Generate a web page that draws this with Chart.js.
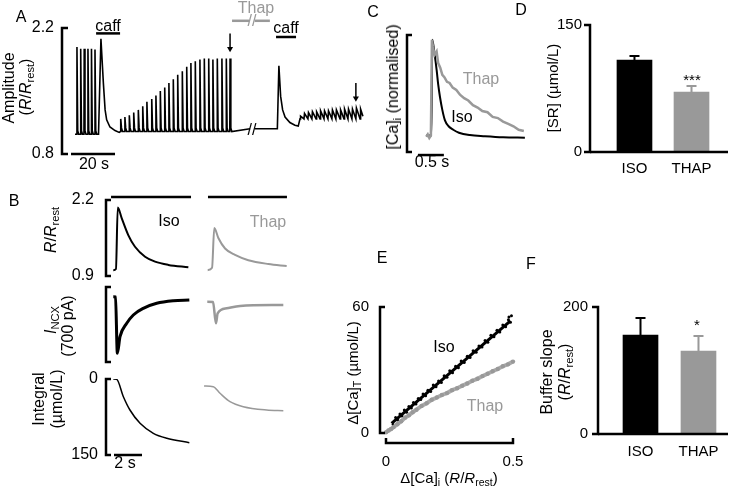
<!DOCTYPE html>
<html>
<head>
<meta charset="utf-8">
<script src="https://cdn.jsdelivr.net/npm/chart.js@4.4.1/dist/chart.umd.min.js"></script>
<style>
  body { margin: 0; background: #fff; }
  #fig { position: relative; width: 735px; height: 488px; overflow: hidden;
         font-family: "Liberation Sans", Arial, Helvetica, sans-serif; }
  #fig canvas { position: absolute; left: 0; top: 0; }
  .t { position: absolute; transform: translate(-50%, -50%); white-space: nowrap;
       font-size: 16px; line-height: 1; color: #000; }
  .r { transform: translate(-50%, -50%) rotate(-90deg); }
  .g { color: #999; }
  .s15 { font-size: 15px; }
  sub { font-size: 70%; vertical-align: -0.3em; line-height: 0; }
</style>
</head>
<body>
<div id="fig"></div>
<script>
'use strict';

// ---------- A: field-stimulated transients (time in s, R/Rrest) ----------
const aStartT = 5.9;
const aRest = 1.02;
const aBeatT = [6.8, 8.5, 10.1, 11.8, 13.4, 15.0];
const aBeatPk = [1.99, 1.97, 1.97, 1.97, 1.97, 1.96];
const aCaffT = [16.6, 17.7, 18.8, 19.6, 20.3, 21.8, 24.1, 26.0];
const aCaffV = [1.02, 2.08, 1.59, 1.29, 1.18, 1.10, 1.06, 1.04];
const aStairT = [26.7, 28.6, 30.6, 32.6, 34.7, 36.7, 38.6, 40.8, 42.7, 44.7, 46.7, 48.6, 50.6,
                 52.6, 54.7, 56.7, 58.6, 60.6, 62.7, 64.7, 66.7, 68.6, 70.6, 72.7, 74.7, 76.4];
const aStairPk = [1.19, 1.21, 1.23, 1.26, 1.29, 1.33, 1.38, 1.41, 1.45, 1.50, 1.54, 1.59, 1.63,
                  1.68, 1.72, 1.77, 1.81, 1.83, 1.85, 1.86, 1.86, 1.85, 1.86, 1.86, 1.86, 1.86];
const aStairBase = 1.05;
const aPlateau = 1.08;
const aGap = [85.5, 87.7];
const aThapCaffT = [97.9, 98.6, 99.4, 100.3, 101.4, 103.6, 105.9, 107.4];
const aThapCaffV = [1.08, 1.78, 1.44, 1.29, 1.21, 1.15, 1.12, 1.11];
const aSmallT = [108.2, 110.0, 111.8, 113.6, 115.5, 117.3, 119.1, 120.9, 122.7, 124.5,
                 126.4, 128.2, 130.0, 131.8, 133.6, 135.5];
const aSmallPk = [1.22, 1.25, 1.26, 1.27, 1.27, 1.28, 1.28, 1.28, 1.29, 1.29,
                  1.29, 1.30, 1.30, 1.30, 1.31, 1.30];
const aSmallBase = 1.19;
const aEndT = 136.8;
const aCaffBars = [[15.5, 26.4, 2.14], [97.3, 106.4, 2.10]];
const aThapBar = [[77.3, 85.0, 2.28], [87.6, 94.5, 2.28]];
const aArrows = [[76.4, 2.14, 1.94], [133.6, 1.59, 1.39]];
const aScaleBar = [4.1, 24.1];          // 20 s
const aTicks = [0.8, 2.2];

// ---------- B: caffeine-evoked transients, Iso vs Thap ----------
const bIsoRatioT = [0.52, 0.71, 0.84, 1.12, 1.59, 2.07, 2.79, 3.5, 4.45, 5.88];
const bIsoRatioV = [1.00, 1.02, 2.07, 1.89, 1.60, 1.40, 1.23, 1.145, 1.09, 1.05];
const bThapRatioT = [0.55, 0.86, 1.02, 1.31, 1.79, 2.5, 3.45, 4.88, 6.19];
const bThapRatioV = [1.00, 1.04, 1.72, 1.55, 1.37, 1.26, 1.17, 1.105, 1.07];
const bIsoNcxT = [0.52, 0.68, 0.81, 1.0, 1.48, 1.95, 2.66, 3.62, 4.81, 5.95];
const bIsoNcxV = [-90, -93, -619, -464, -339, -261, -199, -152, -128, -121];
const bThapNcxT = [0.52, 0.93, 1.14, 1.26, 1.91, 2.86, 5.95];
const bThapNcxV = [-137, -140, -339, -246, -199, -177, -168];
const bIsoIntT = [0.52, 0.76, 1.24, 1.71, 2.43, 3.38, 4.34, 5.95];
const bIsoIntV = [0, 0.6, 34.9, 61.2, 87.4, 107.2, 117, 125.7];
const bThapIntT = [0.29, 0.95, 1.43, 2.14, 3.09, 4.76, 5.95];
const bThapIntV = [13.8, 15.2, 28.2, 44.8, 54.7, 61.2, 62.6];
const bIsoBar = [0.36, 6.07];
const bThapBar = [0.57, 6.21];
const bScaleBar = [0.57, 2.57];         // 2 s
const bRatioTicks = [0.9, 2.2];
const bIntTicks = [0, 150];

// ---------- C: normalised [Ca]i ----------
const cIsoT = [0.37, 0.47, 0.487, 0.53, 0.571, 0.60, 0.635, 0.68, 0.731, 0.80, 0.89, 1.0, 1.21, 1.5, 1.85, 2.27];
const cIsoV = [0.14, 0.14, 0.96, 0.84, 0.70, 0.58, 0.47, 0.36, 0.27, 0.22, 0.19, 0.165, 0.145, 0.135, 0.126, 0.122];
const cThapT = [0.37, 0.40, 0.43, 0.46, 0.48, 0.50, 0.53, 0.57, 0.60, 0.64, 0.68, 0.72, 0.77, 0.82, 0.88,
                0.95, 1.02, 1.10, 1.18, 1.27, 1.36, 1.45, 1.55, 1.65, 1.75, 1.85, 1.95, 2.05, 2.15, 2.25];
const cThapV = [0.13, 0.15, 0.12, 0.14, 0.96, 0.90, 0.83, 0.86, 0.76, 0.72, 0.66, 0.64, 0.60, 0.59, 0.55,
                0.53, 0.49, 0.46, 0.44, 0.40, 0.38, 0.35, 0.34, 0.30, 0.29, 0.26, 0.24, 0.22, 0.19, 0.18];
const cScaleBar = [0.21, 0.71];         // 0.5 s

// ---------- D: SR content ----------
const dGroups = ['ISO', 'THAP'];
const dMean = [108.7, 70.9];
const dErr = [4.7, 7.1];
const dTicks = [0, 150];

// ---------- E: buffering curves ----------
const eIsoX = [0.028, 0.038, 0.046, 0.055, 0.063, 0.072, 0.081, 0.09, 0.1, 0.108, 0.118, 0.127, 0.137,
               0.146, 0.156, 0.165, 0.176, 0.186, 0.197, 0.207, 0.218, 0.229, 0.24, 0.251, 0.262, 0.274,
               0.285, 0.296, 0.308, 0.32, 0.331, 0.343, 0.355, 0.366, 0.378, 0.39, 0.401, 0.413, 0.425,
               0.437, 0.448, 0.46, 0.471, 0.482, 0.49, 0.484, 0.494];
const eIsoY = [4.1, 7.4, 6.2, 9.1, 8.1, 10.9, 9.9, 12.6, 11.9, 14.5, 13.8, 16.4, 15.9,
               18.6, 17.7, 20.3, 19.8, 22.9, 22.0, 24.8, 24.1, 27.3, 26.5, 29.6, 28.7, 31.8,
               31.1, 34.3, 33.6, 36.6, 35.9, 39.2, 38.4, 41.4, 40.9, 44.1, 43.2, 46.5, 45.8,
               48.9, 48.1, 51.4, 50.6, 53.9, 52.7, 55.2, 55.8];
const eIsoFitX = [0.022, 0.49];
const eIsoFitY = [4.6, 53.4];
const eThapX = [0.0, 0.01, 0.02, 0.03, 0.045, 0.06, 0.075, 0.09, 0.105, 0.12, 0.14, 0.16, 0.18, 0.2, 0.22,
                0.24, 0.26, 0.28, 0.3, 0.32, 0.34, 0.36, 0.38, 0.4, 0.42, 0.44, 0.46, 0.48, 0.5];
const eThapY = [0.3, 1.2, 1.9, 2.8, 4.2, 5.6, 7.3, 8.4, 9.9, 11.1, 12.9, 14.2, 15.8, 16.9, 18.1,
                19.0, 20.4, 21.3, 22.5, 23.6, 24.9, 25.8, 27.1, 28.2, 29.4, 30.5, 31.8, 32.7, 34.0];
const eXTicks = [0, 0.5];
const eYTicks = [0, 60];

// ---------- F: buffer slope ----------
const fGroups = ['ISO', 'THAP'];
const fMean = [155.9, 130.7];
const fErr = [26.8, 23.6];
const fTicks = [0, 200];

// =====================================================================
const W = 735, H = 488;
const BLACK = '#000000';
const GRAY = '#999999';
Chart.defaults.font.family = '"Liberation Sans", Arial, Helvetica, sans-serif';
Chart.defaults.color = '#000';
const fig = document.getElementById('fig');

function pts(xs, ys) {
  return xs.map((x, i) => ({ x: x, y: ys[i] }));
}

function trace(data, color, width, smooth) {
  return {
    data: data, borderColor: color, borderWidth: width, pointRadius: 0,
    cubicInterpolationMode: smooth ? 'monotone' : 'default', tension: 0, spanGaps: false
  };
}

function bar(x0, x1, y, color, width) {
  return {
    data: [{ x: x0, y: y }, { x: x1, y: y }], borderColor: color,
    borderWidth: width || 2.5, pointRadius: 0, clip: false
  };
}

function axis(min, max, ticks, size, pad, fontSize, reverse) {
  const s = {
    type: 'linear', min: min, max: max, reverse: !!reverse, display: !!ticks,
    grid: { display: false, drawTicks: false }, border: { display: false },
    ticks: { padding: pad || 0, font: { size: fontSize || 16 }, color: '#000' }
  };
  if (ticks) {
    s.afterBuildTicks = sc => { sc.ticks = ticks.map(v => ({ value: v })); };
    s.afterFit = sc => { if (sc.isHorizontal()) sc.height = size; else sc.width = size; };
    s.ticks.callback = v => String(v);
  }
  return s;
}

function catAxis(labels, min, max, size, pad) {
  return {
    type: 'linear', min: min, max: max, offset: false,
    grid: { display: false, drawTicks: false }, border: { display: false },
    afterBuildTicks: sc => { sc.ticks = labels.map((l, i) => ({ value: i })); },
    afterFit: sc => { sc.height = size; },
    ticks: { padding: pad, font: { size: 15 }, color: '#000', callback: (v, i) => labels[i] }
  };
}

// bracket-style axis lines drawn through the chart's own scales
function brackets(list) {
  return {
    id: 'brackets',
    afterDatasetsDraw(chart) {
      const { ctx, chartArea, scales } = chart;
      ctx.save();
      ctx.lineWidth = 2.5;
      ctx.strokeStyle = '#000';
      ctx.lineJoin = 'miter';
      list.forEach(b => {
        ctx.beginPath();
        if (b.axis === 'y') {
          const x = chartArea.left;
          const y1 = scales.y.getPixelForValue(b.from), y2 = scales.y.getPixelForValue(b.to);
          ctx.moveTo(x + b.tick, y1); ctx.lineTo(x, y1); ctx.lineTo(x, y2); ctx.lineTo(x + b.tick, y2);
        } else {
          const y = b.at !== undefined ? scales.y.getPixelForValue(b.at) : chartArea.bottom;
          const x1 = scales.x.getPixelForValue(b.from), x2 = scales.x.getPixelForValue(b.to);
          ctx.moveTo(x1, y + b.tick); ctx.lineTo(x1, y); ctx.lineTo(x2, y); ctx.lineTo(x2, y + b.tick);
        }
        ctx.stroke();
      });
      ctx.restore();
    }
  };
}

function errorBars(means, errs, colors) {
  return {
    id: 'errorBars',
    afterDatasetsDraw(chart) {
      const { ctx, scales } = chart;
      ctx.save();
      ctx.lineWidth = 2;
      means.forEach((m, i) => {
        const x = scales.x.getPixelForValue(i);
        const y0 = scales.y.getPixelForValue(m), y1 = scales.y.getPixelForValue(m + errs[i]);
        ctx.strokeStyle = colors[i];
        ctx.beginPath();
        ctx.moveTo(x, y0); ctx.lineTo(x, y1);
        ctx.moveTo(x - 5, y1); ctx.lineTo(x + 5, y1);
        ctx.stroke();
      });
      ctx.restore();
    }
  };
}

function addChart(type, area, yw, xh, scales, datasets, plugins) {
  const cv = document.createElement('canvas');
  cv.width = W; cv.height = H;
  fig.appendChild(cv);
  return new Chart(cv, {
    type: type,
    data: { datasets: datasets },
    options: {
      responsive: false, animation: false, events: [],
      layout: { padding: { left: area.l - yw, top: area.t, right: W - area.r, bottom: H - area.b - xh } },
      plugins: { legend: { display: false }, tooltip: { enabled: false } },
      scales: scales
    },
    plugins: plugins || []
  });
}

// ---------- panel A ----------
const aTrace = [{ x: aStartT, y: aRest }];
function spikes(times, peaks, base) {
  times.forEach((t, i) => {
    aTrace.push({ x: t - 0.12, y: base }, { x: t, y: peaks[i] },
                { x: t + 0.35, y: base + 0.04 }, { x: t + 0.8, y: base });
  });
}
spikes(aBeatT, aBeatPk, aRest);
aCaffT.forEach((t, i) => aTrace.push({ x: t, y: aCaffV[i] }));
spikes(aStairT, aStairPk, aStairBase);
aTrace.push({ x: aGap[0], y: aPlateau }, { x: (aGap[0] + aGap[1]) / 2, y: null }, { x: aGap[1], y: aPlateau });
aThapCaffT.forEach((t, i) => aTrace.push({ x: t, y: aThapCaffV[i] }));
aSmallT.forEach((t, i) => aTrace.push({ x: t, y: aSmallBase }, { x: t + 0.25, y: aSmallPk[i] }));
aTrace.push({ x: aEndT, y: aSmallBase + 0.03 });

const aSets = [trace(aTrace, BLACK, 1.6, false), bar(aScaleBar[0], aScaleBar[1], 0.8, BLACK, 2.5)];
aCaffBars.forEach(b => aSets.push(bar(b[0], b[1], b[2], BLACK, 2.5)));
aThapBar.forEach(b => aSets.push(bar(b[0], b[1], b[2], GRAY, 2.5)));
aArrows.forEach(a => aSets.push({
  data: [{ x: a[0], y: a[1] }, { x: a[0], y: a[2] + 0.03 }], borderColor: BLACK, borderWidth: 1.5,
  pointRadius: [0, 3.5], pointStyle: 'triangle', rotation: 180, backgroundColor: BLACK,
  pointBorderWidth: 0, clip: false
}));
addChart('line', { l: 62, r: 366, t: 28, b: 154 }, 50, 0, {
  x: axis(0, 138.2),
  y: axis(0.8, 2.2, aTicks, 50, 8, 16)
}, aSets, [brackets([{ axis: 'y', from: 0.8, to: 2.2, tick: 6 }])]);

// ---------- panel B ----------
addChart('line', { l: 106, r: 192, t: 200, b: 276 }, 50, 0, {
  x: axis(0, 6.14), y: axis(0.9, 2.2, bRatioTicks, 50, 12, 16)
}, [trace(pts(bIsoRatioT, bIsoRatioV), BLACK, 2, true), bar(bIsoBar[0], bIsoBar[1], 2.25, BLACK, 2.5)],
[brackets([{ axis: 'y', from: 0.9, to: 2.2, tick: 5 }])]);
addChart('line', { l: 200, r: 292, t: 200, b: 276 }, 0, 0, {
  x: axis(0, 6.57), y: axis(0.9, 2.2)
}, [trace(pts(bThapRatioT, bThapRatioV), GRAY, 2, true), bar(bThapBar[0], bThapBar[1], 2.25, BLACK, 2.5)]);

addChart('line', { l: 106, r: 192, t: 287, b: 362 }, 0, 0, {
  x: axis(0, 6.14), y: axis(-700, 0)
}, [trace(pts(bIsoNcxT, bIsoNcxV), BLACK, 3, true)],
[brackets([{ axis: 'y', from: -700, to: 0, tick: 5 }])]);
addChart('line', { l: 200, r: 292, t: 287, b: 362 }, 0, 0, {
  x: axis(0, 6.57), y: axis(-700, 0)
}, [trace(pts(bThapNcxT, bThapNcxV), GRAY, 2.5, true)]);

addChart('line', { l: 106, r: 192, t: 379, b: 455 }, 50, 0, {
  x: axis(0, 6.14), y: axis(0, 150, bIntTicks, 50, 8, 16, true)
}, [trace(pts(bIsoIntT, bIsoIntV), BLACK, 1.5, true), bar(bScaleBar[0], bScaleBar[1], 150, BLACK, 2.5)],
[brackets([{ axis: 'y', from: 0, to: 150, tick: 5 }])]);
addChart('line', { l: 200, r: 292, t: 379, b: 455 }, 0, 0, {
  x: axis(0, 6.57), y: axis(0, 150, null, 0, 0, 16, true)
}, [trace(pts(bThapIntT, bThapIntV), GRAY, 1.5, true)]);

// ---------- panel C ----------
addChart('line', { l: 407, r: 528, t: 35, b: 152 }, 0, 0, {
  x: axis(0, 2.33), y: axis(0, 1)
}, [trace(pts(cThapT, cThapV), GRAY, 2.5, false),
    trace(pts(cIsoT, cIsoV), BLACK, 2, true),
    bar(cScaleBar[0], cScaleBar[1], -0.026, BLACK, 2.5)],
[brackets([{ axis: 'y', from: 0, to: 1, tick: 5 }])]);

// ---------- panel D ----------
addChart('bar', { l: 590, r: 728, t: 25, b: 152 }, 40, 30, {
  x: catAxis(dGroups, -0.78, 1.64, 30, 8),
  y: axis(0, 150, dTicks, 40, 8, 15)
}, [{ data: pts([0, 1], dMean), backgroundColor: [BLACK, GRAY], barThickness: 35 }],
[errorBars(dMean, dErr, [BLACK, GRAY]),
 brackets([{ axis: 'y', from: 0, to: 150, tick: -6 }, { axis: 'x', from: -0.78, to: 1.64, tick: 0 }])]);

// ---------- panel E ----------
addChart('scatter', { l: 380, r: 520, t: 300, b: 443 }, 40, 35, {
  x: axis(-0.0236, 0.5276, eXTicks, 35, 10, 15),
  y: axis(-4.76, 63.33, eYTicks, 40, 11, 15)
}, [
  { data: pts(eThapX, eThapY), showLine: true, borderColor: '#aaaaaa', borderWidth: 4,
    pointRadius: 2.2, pointBackgroundColor: GRAY, pointBorderWidth: 0 },
  { data: pts(eIsoX, eIsoY), showLine: false, pointRadius: 1.5, pointBackgroundColor: BLACK, pointBorderWidth: 0 },
  { data: pts(eIsoFitX, eIsoFitY), showLine: true, borderColor: BLACK, borderWidth: 3, pointRadius: 0 }
], [brackets([{ axis: 'y', from: 0, to: 60, tick: 5 }, { axis: 'x', from: 0, to: 0.5, tick: -5 }])]);

// ---------- panel F ----------
addChart('bar', { l: 598, r: 728, t: 307, b: 434 }, 40, 30, {
  x: catAxis(fGroups, -0.733, 1.509, 30, 9),
  y: axis(0, 200, fTicks, 40, 10, 15)
}, [{ data: pts([0, 1], fMean), backgroundColor: [BLACK, GRAY], barThickness: 35 }],
[errorBars(fMean, fErr, [BLACK, GRAY]),
 brackets([{ axis: 'y', from: 0, to: 200, tick: -6 }, { axis: 'x', from: -0.733, to: 1.509, tick: 0 }])]);

// ---------- text ----------
const RR = '(<i>R</i>/<i>R</i><sub>rest</sub>)';
[
  ['A', 21, 17, ''], ['B', 14, 201, ''], ['C', 373, 12, ''], ['D', 521, 10, ''], ['E', 382, 258, ''], ['F', 531, 264, ''],
  ['Amplitude', 9, 88, 'r'], [RR, 26, 87, 'r'],
  ['caff', 108, 26, ''], ['caff', 286, 28, ''], ['Thap', 256, 8, 'g'],
  ['//', 252, 130, ''], ['//', 252, 21, 'g'],
  ['20 s', 94, 164, ''],
  ['<i>R</i>/<i>R</i><sub>rest</sub>', 51, 230, 'r'],
  ['<i>I</i><sub>NCX</sub>', 51, 320, 'r'], ['(700 pA)', 68, 326, 'r'],
  ['Integral', 39, 399, 'r'], ['(µmol/L)', 57, 399, 'r'],
  ['Iso', 169, 221, ''], ['Thap', 268, 222, 'g'], ['2 s', 125, 463, ''],
  ['[Ca]<sub>i</sub> (normalised)', 393, 87, 'r'], ['Thap', 481, 79, 'g'], ['Iso', 462, 117, ''], ['0.5 s', 432, 162, ''],
  ['[SR] (µmol/L)', 552, 88, 'r s15'], ['***', 692, 79, 's15'],
  ['Δ[Ca]<sub>T</sub> (µmol/L)', 352, 373, 'r s15'], ['Δ[Ca]<sub>i</sub> ' + RR, 449, 477, 's15'],
  ['Iso', 444, 347, ''], ['Thap', 485, 406, 'g'],
  ['Buffer slope', 547, 372, 'r'], [RR, 565, 372, 'r'], ['*', 697, 324, 's15']
].forEach(([html, x, y, cls]) => {
  const d = document.createElement('div');
  d.className = 't ' + cls;
  d.innerHTML = html;
  d.style.left = x + 'px';
  d.style.top = y + 'px';
  fig.appendChild(d);
});
</script>
</body>
</html>
